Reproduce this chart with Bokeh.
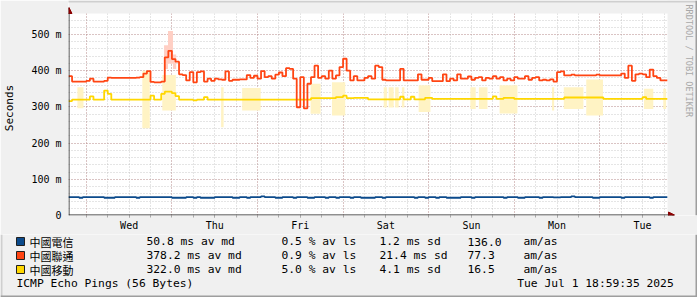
import datetime as dt
from math import pi
from bokeh.plotting import figure
from bokeh.layouts import column
from bokeh.models import Range1d, FixedTicker, Arrow, NormalHead
from bokeh.core.properties import value
from bokeh.embed import file_html
from bokeh.resources import INLINE

# ---------------- data ----------------
END = dt.datetime(2025, 7, 1, 18, 59, 35)
HOURS = 168
START = END - dt.timedelta(hours=HOURS)

hosts = ["中國電信", "中國聯通", "中國移動"]
colors = ["#0B4A8B", "#FF4513", "#FFD700"]
smoke_colors = ["#B0C4DE", "#FFCFC4", "#FFF3C4"]

# hourly median RTT (ms)
telecom = [51, 51, 51, 49, 51, 51, 51, 51, 51, 51,
           49, 49, 49, 51, 51, 51, 51, 51, 51, 49,
           51, 51, 51, 51, 51, 51, 51, 51, 51, 49,
           49, 49, 49, 51, 51, 49, 51, 49, 49, 49,
           49, 51, 51, 51, 51, 51, 49, 49, 51, 51,
           49, 51, 51, 51, 53, 51, 51, 51, 49, 49,
           51, 51, 51, 49, 51, 51, 51, 49, 49, 51,
           51, 51, 49, 51, 51, 49, 51, 51, 51, 49,
           51, 51, 49, 49, 49, 49, 51, 51, 49, 51,
           51, 51, 51, 51, 51, 51, 51, 49, 51, 51,
           49, 51, 51, 49, 51, 51, 49, 49, 49, 49,
           51, 51, 51, 49, 51, 51, 51, 51, 51, 51,
           51, 51, 49, 51, 51, 51, 49, 49, 51, 51,
           51, 51, 49, 51, 51, 51, 50, 50, 51, 51,
           51, 53, 51, 51, 51, 51, 51, 49, 49, 51,
           51, 51, 51, 51, 51, 49, 51, 51, 51, 51,
           51, 51, 51, 49, 51, 51, 51, 51]

unicom = [385, 370, 370, 370, 370, 372, 378, 370, 370, 370,
          372, 381, 380, 380, 380, 380, 380, 380, 380, 381,
          382, 392, 399, 369, 368, 368, 370, 437, 455, 432,
          425, 390, 388, 373, 396, 368, 396, 398, 370, 378,
          372, 378, 376, 375, 398, 372, 375, 375, 376, 376,
          388, 380, 386, 378, 399, 382, 385, 378, 389, 395,
          385, 407, 405, 378, 299, 382, 296, 364, 382, 414,
          380, 385, 378, 400, 378, 387, 410, 433, 400, 373,
          385, 373, 373, 380, 385, 378, 414, 410, 375, 373,
          373, 373, 373, 405, 373, 373, 373, 373, 390, 375,
          375, 380, 371, 371, 371, 390, 371, 378, 373, 390,
          378, 378, 384, 375, 380, 382, 373, 380, 378, 385,
          378, 382, 373, 378, 373, 382, 378, 378, 385, 375,
          380, 382, 373, 375, 373, 376, 370, 396, 398, 387,
          387, 389, 387, 387, 387, 387, 387, 387, 389, 387,
          387, 387, 387, 387, 387, 392, 380, 414, 372, 390,
          392, 390, 382, 403, 385, 380, 373, 373]

mobile = [316, 320, 320, 320, 320, 320, 329, 320, 320, 320,
          345, 336, 320, 320, 320, 320, 320, 320, 320, 320,
          320, 320, 320, 331, 320, 320, 336, 342, 342, 338,
          330, 320, 320, 320, 320, 318, 320, 320, 327, 320,
          320, 320, 320, 320, 320, 320, 320, 320, 320, 320,
          320, 320, 320, 320, 320, 320, 320, 320, 320, 320,
          320, 320, 320, 320, 320, 320, 320, 320, 324, 324,
          324, 324, 324, 324, 324, 327, 327, 331, 324, 324,
          325, 325, 325, 325, 321, 321, 321, 321, 321, 321,
          321, 321, 321, 328, 321, 321, 328, 321, 321, 321,
          325, 325, 322, 322, 322, 322, 322, 322, 322, 322,
          322, 322, 322, 322, 322, 322, 322, 322, 322, 329,
          322, 322, 325, 325, 325, 322, 322, 322, 322, 322,
          322, 322, 322, 322, 322, 322, 322, 322, 322, 326,
          326, 326, 326, 326, 326, 326, 326, 326, 326, 326,
          322, 322, 322, 322, 322, 322, 322, 322, 322, 322,
          322, 327, 322, 322, 322, 322, 322, 322]

# smoke (spread) periods: hours from start, low/high ms
unicom_smoke_start = [26.8, 27.9, 29.3]
unicom_smoke_end = [27.9, 29.3, 30.2]
unicom_smoke_lo = [405, 419, 405]
unicom_smoke_hi = [470, 510, 445]

mobile_smoke_start = [2.5, 20.7, 26.3, 42.8, 48.7, 67.9, 73.9, 88.4, 89.8, 91.6, 93.5,
                      98.2, 112.7, 115.1, 120.9, 135.6, 138.9, 145.2, 161.4, 166.8]
mobile_smoke_end = [4.2, 22.8, 30.1, 43.5, 53.9, 70.7, 77.6, 89.3, 91.2, 92.6, 94.2,
                    101.5, 114.2, 117.5, 125.9, 136.2, 144.4, 149.9, 164.0, 167.6]
mobile_smoke_lo = [296, 241, 290, 244, 290, 281, 276, 298, 298, 298, 298,
                   286, 294, 294, 282, 290, 294, 276, 294, 294]
mobile_smoke_hi = [354, 400, 388, 354, 352, 364, 368, 354, 354, 354, 354,
                   360, 354, 354, 360, 354, 354, 376, 350, 350]

# legend statistics
avg_md = [50.8, 378.2, 322.0]
avg_ls = [0.5, 0.9, 5.0]
sd = [1.2, 21.4, 4.1]
am_as = [136.0, 77.3, 16.5]

Y_MAX = 558
y_ticks = [0, 100, 200, 300, 400, 500]
y_tick_labels = ["0", "100 m", "200 m", "300 m", "400 m", "500 m"]
day_names = ["Wed", "Thu", "Fri", "Sat", "Sun", "Mon", "Tue"]

title_text = "ICMP Echo Pings (56 Bytes)"
stamp_text = "Tue Jul  1 18:59:35 2025"
credit_text = "RRDTOOL / TOBI OETIKER"

# ---------------- geometry ----------------
W, H = 697, 297
TOP_H = 234                     # upper figure (graph + x labels)
FL, FR, FT, FB = 67, 667, 13, 215  # the graph canvas in page pixels
PXH = (FR - FL) / HOURS          # px per hour
PXM = (FB - FT) / Y_MAX          # px per ms
MONO = "DejaVu Sans Mono"
BG = "#F0F0F0"
SHADE_A, SHADE_B = "#CFCFCF", "#9E9E9E"
MGRID, GRID = "#C07070", "#A8A8A8"

def dx(px):
    return (px - FL) / PXH

def dy(py):
    return (FB - py) / PXM

# ---------------- upper figure ----------------
p = figure(width=W, height=TOP_H, output_backend="svg", toolbar_location=None,
           x_range=Range1d(0, dx(W)), y_range=Range1d(0, dy(0)),
           min_border_left=FL, min_border_right=0,
           min_border_top=0, min_border_bottom=TOP_H - FB)
p.frame_align = False
p.background_fill_color = "#FFFFFF"
p.border_fill_color = BG
p.outline_line_color = None

def hrs(t):
    return (t - START).total_seconds() / 3600.0

first_mid = dt.datetime(START.year, START.month, START.day) + dt.timedelta(days=1)
midnights = [hrs(first_mid + dt.timedelta(days=k)) for k in range(7)]
noons = [m + 12 for m in midnights]
six_h = [midnights[0] + 6 * j for j in range(-1, 29) if 0 < midnights[0] + 6 * j < HOURS]

# x axis: day names at noon, small tick marks every 6 h
p.xaxis.ticker = FixedTicker(ticks=noons, minor_ticks=six_h)
p.xaxis.major_label_overrides = {n: d for n, d in zip(noons, day_names)}
p.xaxis.major_tick_out = 2
p.xaxis.major_tick_in = 0
p.xaxis.minor_tick_out = 2
p.xaxis.minor_tick_in = 0
p.xaxis.major_tick_line_color = GRID
p.xaxis.minor_tick_line_color = GRID
p.xaxis.major_label_standoff = 2
p.xaxis.axis_line_color = None
p.xaxis.major_label_text_font = MONO
p.xaxis.major_label_text_font_size = "10px"
p.xaxis.major_label_text_color = "#000000"

p.xgrid.ticker = FixedTicker(ticks=midnights, minor_ticks=six_h)
p.yaxis.ticker = FixedTicker(ticks=y_ticks, minor_ticks=list(range(0, Y_MAX, 20)))
p.yaxis.major_label_overrides = {t: l for t, l in zip(y_ticks, y_tick_labels)}
p.yaxis.major_tick_out = 0
p.yaxis.major_tick_in = 0
p.yaxis.minor_tick_out = 0
p.yaxis.minor_tick_in = 0
p.yaxis.major_label_standoff = 7
p.yaxis.axis_line_color = None
p.yaxis.major_label_text_font = MONO
p.yaxis.major_label_text_font_size = "10px"
p.yaxis.major_label_text_color = "#000000"
p.yaxis.axis_label = "Seconds"
p.yaxis.axis_label_text_font = MONO
p.yaxis.axis_label_text_font_size = "11px"
p.yaxis.axis_label_text_font_style = "normal"
p.yaxis.axis_label_text_color = "#000000"
p.yaxis.axis_label_standoff = 12

for g in (p.xgrid, p.ygrid):
    g.grid_line_color = MGRID
    g.grid_line_alpha = 0.55
    g.grid_line_dash = "1 2"
    g.minor_grid_line_color = GRID
    g.minor_grid_line_alpha = 0.6
    g.minor_grid_line_dash = "1 2"

# smoke
p.quad(left=mobile_smoke_start, right=mobile_smoke_end, bottom=mobile_smoke_lo,
       top=mobile_smoke_hi, fill_color=smoke_colors[2], line_color=None)
p.quad(left=unicom_smoke_start, right=unicom_smoke_end, bottom=unicom_smoke_lo,
       top=unicom_smoke_hi, fill_color=smoke_colors[1], line_color=None)

# median lines
xs = list(range(HOURS + 1))
for series, col in zip([mobile, unicom, telecom], [colors[2], colors[1], colors[0]]):
    p.step(xs, series + [series[-1]], mode="after", line_color=col, line_width=1.8)

# page background around the graph canvas (top strip and right strip) + 3D border
p.quad(left=[0, HOURS], right=[dx(W), dx(W)], bottom=[Y_MAX, 0], top=[dy(0), dy(0)],
       fill_color=BG, line_color=None)
p.quad(left=[dx(FL - 1), dx(W - 2)], right=[dx(W), dx(W)], bottom=[dy(2), 0],
       top=[dy(0), dy(0)], fill_color=[SHADE_A, SHADE_B], line_color=None)

# axis lines with arrows
p.add_layout(Arrow(end=NormalHead(size=6, fill_color="#8B0000", line_color="#8B0000"),
                   x_start=dx(FL + 0.5), y_start=0, x_end=dx(FL + 0.5), y_end=dy(7),
                   line_color="#1F1F1F", line_width=1))
p.add_layout(Arrow(end=NormalHead(size=6, fill_color="#8B0000", line_color="#8B0000"),
                   x_start=0, y_start=dy(FB - 0.5), x_end=dx(674), y_end=dy(FB - 0.5),
                   line_color="#1F1F1F", line_width=1))

# credit
p.text(x=[dx(688)], y=[dy(4)], text=[credit_text], angle=-pi / 2,
       text_font=value(MONO), text_font_size="8.5px", text_color="#A8A8A8",
       text_align="left", text_baseline="middle")

# ---------------- lower figure (legend / comments) ----------------
q = figure(width=W, height=H - TOP_H, output_backend="svg", toolbar_location=None,
           x_range=Range1d(0, W), y_range=Range1d(H, TOP_H),
           x_axis_location=None, y_axis_location=None, min_border=0)
q.frame_align = False
q.grid.visible = False
q.outline_line_color = None
q.background_fill_color = BG
q.border_fill_color = BG

row_y = [241, 255, 269]
q.quad(left=[16] * 3, right=[24] * 3, top=[y - 4 for y in row_y], bottom=[y + 4 for y in row_y],
       fill_color=colors, line_color="#202020", line_width=1)

def qtext(x, y, texts, font=MONO, size="11.3px", align="left"):
    q.text(x=x, y=y, text=texts, text_font=value(font), text_font_size=size,
           text_align=align, text_baseline="middle", text_color="#000000")

qtext([29] * 3, row_y, hosts, font="Noto Sans CJK TC", size="11px")
qtext([146] * 3, row_y, [f"{v:5.1f} ms av md" for v in avg_md])
qtext([281] * 3, row_y, [f"{v:3.1f} % av ls" for v in avg_ls])
qtext([379] * 3, row_y, [f"{v:4.1f} ms sd" for v in sd])
qtext([467] * 3, row_y, [f"{v:5.1f}" for v in am_as])
qtext([523] * 3, row_y, ["am/as"] * 3)
qtext([16], [283], [title_text])
qtext([680], [283], [stamp_text], align="right")

# 3D border of the page
q.quad(left=[0, 0, W - 2], right=[2, W, W], top=[TOP_H, H - 2, TOP_H], bottom=[H, H, H],
       fill_color=[SHADE_A, SHADE_B, SHADE_B], line_color=None)

layout = column(p, q, spacing=0)
open("out.html", "w").write(file_html(layout, INLINE))
